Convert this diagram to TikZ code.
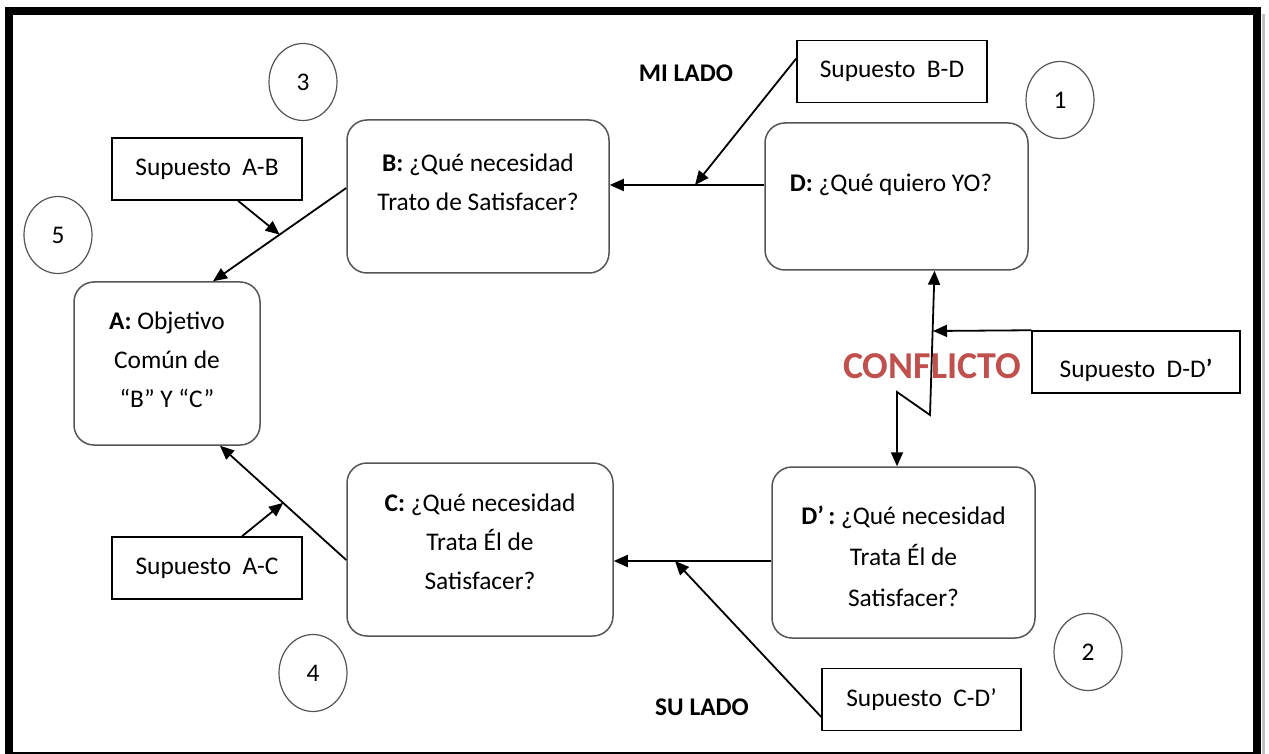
\documentclass[tikz,border=0pt]{standalone}
\usepackage{fontspec}
\setmainfont{Carlito}
\usetikzlibrary{arrows.meta,shapes.geometric,calc}
\definecolor{conflictred}{RGB}{192,80,77}
\definecolor{boxgray}{RGB}{85,85,85}
\begin{document}
\begin{tikzpicture}[x=0.5pt, y=-0.5pt, font=\fontsize{12.7}{19.5}\selectfont,
        qbox/.style={draw=boxgray, line width=0.75pt, rounded corners=10pt},
        sbox/.style={draw, line width=0.75pt, minimum width=95pt, minimum height=31pt, inner sep=0pt},
        num/.style={ellipse, draw=boxgray, line width=0.6pt, minimum width=34pt, minimum height=38.5pt, inner sep=0pt},
        txt/.style={align=center},
        arr/.style={line width=0.9pt, -{Triangle[length=7pt,width=6pt]}}]
            \useasboundingbox (0,0) rectangle (1269,754);
            \draw[line width=4pt] (9,753) -- (9,11) -- (1257,11) -- (1257,753);
            \draw[line width=1pt] (5,753) -- (1261,753);
            \draw[gray!50, line width=1.5pt] (1263,14) -- (1263,754);

            \node[qbox, minimum width=131.5pt, minimum height=73.5pt] (D) at (896.5,196.5) {};
            \node[qbox, minimum width=131pt, minimum height=76.5pt] (B) at (478,196.5) {};
            \node[qbox, minimum width=93pt, minimum height=81.5pt] (A) at (167,363.5) {};
            \node[qbox, minimum width=133pt, minimum height=86.5pt] (C) at (480,549.5) {};
            \node[qbox, minimum width=131.5pt, minimum height=85.5pt] (Dp) at (903.5,552.5) {};

            \node[txt, yshift=5.75pt, xshift=-2.75pt] (Dt) at (D) {\textbf{D:} ¿Qué quiero YO?};
            \node[txt, yshift=7.25pt] (Bt) at (B) {\textbf{B:} ¿Qué necesidad\\Trato de Satisfacer?};
            \node[txt, yshift=1.75pt] (At) at (A) {\textbf{A:} Objetivo\\Común de\\“B” Y “C”};
            \node[txt, yshift=3.75pt] (Ct) at (C) {\textbf{C:} ¿Qué necesidad\\Trata Él de\\Satisfacer?};
            \node[txt, yshift=-1.75pt] (Dpt) at (Dp) {\textbf{D’\,:} ¿Qué necesidad\\[1pt]Trata Él de\\[1pt]Satisfacer?};

            \node[sbox] (SBD) at (892,71.5) {Supuesto\ \ B-D};
            \node[sbox] (SAB) at (207,169) {Supuesto\ \ A-B};
            \node[sbox] (SAC) at (207,568) {Supuesto\ \ A-C};
            \node[sbox, minimum width=104pt] (SDD) at (1136,362) {};
            \node (SDDt) at ([yshift=-4pt]SDD) {Supuesto\ \ D-D\textbf{’}};
            \node[sbox, minimum width=99.5pt] (SCD) at (921.5,699.5) {Supuesto\ \ C-D’};

            \foreach \n/\x/\y in {1/1060/100, 2/1088/652, 3/303/82, 4/313/673, 5/58/235}
                \node[num] (n\n) at (\x,\y) {\n};

            \node[font=\fontsize{12.7}{15}\selectfont\bfseries] (mi) at (686,73) {MI LADO};
            \node[font=\fontsize{12.7}{15}\selectfont\bfseries] (su) at (702,707) {SU LADO};
            \node[text=conflictred, font=\fontsize{19}{22}\selectfont\bfseries] (cf) at (932,366) {CONFLICTO};

            \coordinate (db) at (695,185);
            \draw[arr] (D.west |- db) -- (B.east |- db);
            \draw[arr] ([yshift=6.5pt]SBD.west) -- (db);

            \coordinate (ba1) at ([yshift=4.25pt]B.west);
            \coordinate (ba2) at ([xshift=23pt]A.north);
            \draw[arr] (ba1) -- (ba2);
            \draw[arr] ([xshift=15.5pt]SAB.south) -- ($(ba1)!0.5!(ba2)$);

            \coordinate (ca1) at ([yshift=-5.25pt]C.west);
            \coordinate (ca2) at ([xshift=26.5pt]A.south);
            \draw[arr] (ca1) -- (ca2);
            \draw[arr] ([xshift=17.5pt]SAC.north) -- ($(ca1)!0.5!(ca2)$);

            \coordinate (dc) at (675,561);
            \draw[arr] (Dp.west |- dc) -- (C.east |- dc);
            \draw[arr] ([yshift=-8.75pt]SCD.west) -- (dc);

            \coordinate (z1) at (897,392); \coordinate (z2) at (930,415); \coordinate (zd) at (933,331);
            \draw[line width=0.9pt, {Triangle[length=7pt,width=6pt]}-{Triangle[length=7pt,width=6pt]}] (Dp.north -| z1) -- (z1) -- (z2) -- ([xshift=19pt]D.south);
            \draw[arr] (SDD.north west) -- (zd);
        \end{tikzpicture}
\end{document}
